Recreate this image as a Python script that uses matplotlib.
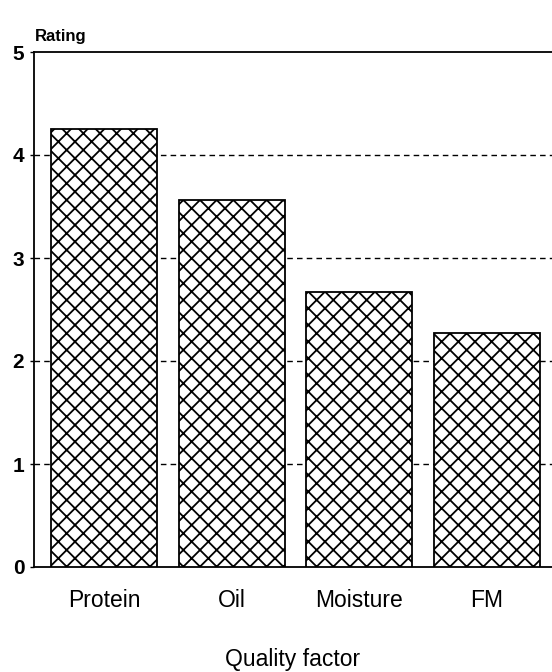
import matplotlib.pyplot as plt

plt.rcParams['font.family'] = ['Liberation Sans', 'DejaVu Sans']
plt.rcParams['hatch.linewidth'] = 1.3

# Data
factors = ['Protein', 'Oil', 'Moisture', 'FM']
ratings = [4.25, 3.56, 2.67, 2.27]
y_ticks = [0, 1, 2, 3, 4, 5]

fig = plt.figure(figsize=(5.52, 6.72), dpi=100)
ax = fig.add_axes([34 / 552, 1 - 567 / 672, (552 - 34) / 552, (567 - 52) / 672])

ax.bar(range(len(factors)), ratings, width=0.83, color='white',
       edgecolor='black', hatch='xx', linewidth=1.3, zorder=3)

for y in y_ticks[1:-1]:
    ax.axhline(y, color='black', linestyle=(0, (4, 3)), linewidth=1.0, zorder=1)

ax.set_xlim(-0.55, 3.51)
ax.set_ylim(0, 5)
ax.set_yticks(y_ticks)
ax.set_yticklabels([str(t) for t in y_ticks], fontsize=15, fontweight='bold')
ax.set_xticks(range(len(factors)))
ax.set_xticklabels(factors, fontsize=16.5)
ax.tick_params(axis='x', length=0, pad=16)
ax.tick_params(axis='y', length=3, width=1.0, pad=4)

for side in ['left', 'top', 'bottom']:
    ax.spines[side].set_linewidth(1.3)
ax.spines['right'].set_visible(False)

ax.set_xlabel('Quality factor', fontsize=16.5, labelpad=26)
fig.text(35 / 552, 1 - 36 / 672, 'Rating', fontsize=12, fontweight='bold',
         ha='left', va='center')

fig.savefig('out.png', dpi=100)
